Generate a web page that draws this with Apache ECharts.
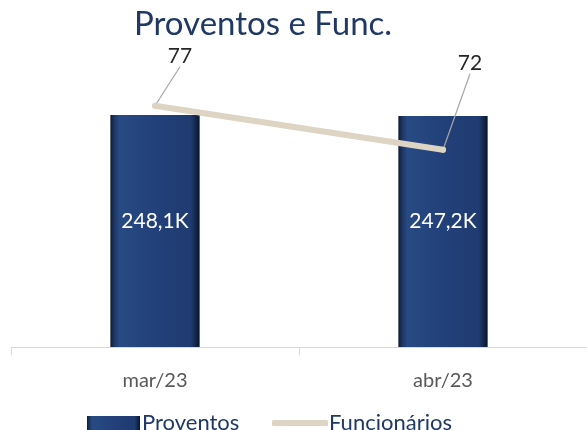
<!DOCTYPE html>
<html>
<head>
<meta charset="utf-8">
<script src="https://cdn.jsdelivr.net/npm/echarts@6/dist/echarts.min.js"></script>
<style>
html,body{margin:0;padding:0;background:#fff;}
#c{width:587px;height:430px;}
</style>
</head>
<body>
<div id="c"></div>
<script>
var categories = ['mar/23', 'abr/23'];
var proventos = [248.1, 247.2];
var funcionarios = [77, 72];
var titleText = 'Proventos e Func.';

var barGradient = new echarts.graphic.LinearGradient(0, 0, 1, 0, [
  {offset: 0, color: '#0c1a36'},
  {offset: 0.04, color: '#1b3563'},
  {offset: 0.1, color: '#284a83'},
  {offset: 0.5, color: '#22407a'},
  {offset: 0.9, color: '#1f3b6f'},
  {offset: 0.96, color: '#132548'},
  {offset: 1, color: '#08142a'}
]);

var chart = echarts.init(document.getElementById('c'), null, {renderer: 'canvas'});
chart.setOption({
  animation: false,
  backgroundColor: '#ffffff',
  title: {
    text: titleText,
    left: 134,
    top: 8,
    padding: 0,
    textStyle: {fontFamily: 'Lato', fontWeight: 'normal', fontSize: 33, color: '#1f3864'}
  },
  legend: [{
    data: [{name: 'Proventos', icon: 'rect'}],
    left: 87, top: 412, padding: 0,
    itemWidth: 53, itemHeight: 14,
    textStyle: {fontFamily: 'Lato', fontSize: 22, color: '#1f3864', padding: [0, 0, 0, -3]}
  }, {
    data: [{name: 'Funcionários', icon: 'roundRect'}],
    left: 272, top: 412, padding: 0,
    itemWidth: 56, itemHeight: 6,
    itemStyle: {color: '#ddd4c3'},
    textStyle: {fontFamily: 'Lato', fontSize: 22, color: '#1f3864', padding: [0, 0, 0, -4]}
  }],
  grid: {left: 11, right: 0, top: 60, bottom: 83},
  xAxis: {
    type: 'category',
    data: categories,
    axisLine: {lineStyle: {color: '#d9d9d9', width: 1}},
    axisTick: {show: true, length: 8, lineStyle: {color: '#d9d9d9'}},
    axisLabel: {fontFamily: 'Lato', fontSize: 20, color: '#595959', margin: 24}
  },
  yAxis: [{
    type: 'value', min: 0, max: 307, show: false
  }, {
    type: 'value', min: 49.6, max: 82.2, show: false
  }],
  series: [{
    name: 'Proventos',
    type: 'bar',
    data: proventos,
    barWidth: '31%',
    itemStyle: {color: barGradient},
    label: {
      show: true,
      position: 'inside',
      offset: [0, -10],
      fontFamily: 'Lato', fontSize: 21, color: '#ffffff',
      formatter: function (p) { return p.value.toFixed(1).replace('.', ',') + 'K'; }
    }
  }, {
    name: 'Funcionários',
    type: 'line',
    yAxisIndex: 1,
    data: funcionarios,
    symbol: 'circle',
    symbolSize: 6,
    itemStyle: {color: '#ddd4c3'},
    lineStyle: {color: '#ddd4c3', width: 6, cap: 'round'},
    label: {
      show: true,
      position: 'top',
      fontFamily: 'Lato', fontSize: 21, color: '#262626'
    },
    labelLine: {show: true, lineStyle: {color: '#a6a6a6', width: 1.2}},
    labelLayout: function (p) {
      return p.dataIndex === 0 ? {dx: 25, dy: -31} : {dx: 27, dy: -68};
    },
    z: 5
  }]
});
</script>
</body>
</html>
